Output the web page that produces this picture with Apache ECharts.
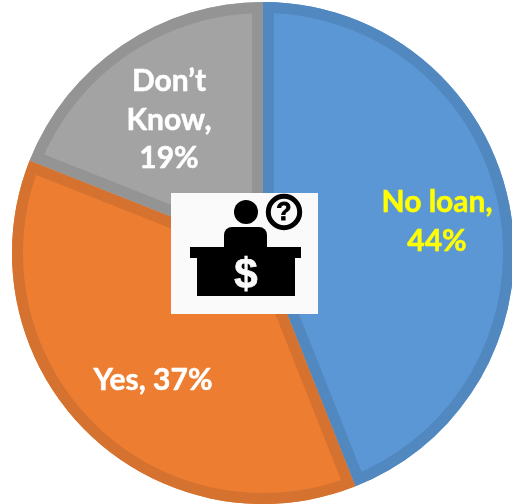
<!DOCTYPE html>
<html>
<head>
<meta charset="utf-8">
<style>html,body{margin:0;padding:0;background:#fff}#chart{width:512px;height:504px}</style>
<script src="https://cdn.jsdelivr.net/npm/echarts@6/dist/echarts.min.js"></script>
</head>
<body>
<div id="chart"></div>
<script>
// Survey answers: share of respondents, in percent
const categories = ['No loan', 'Yes', 'Don\u2019t Know'];
const shares = [44, 37, 19];
const labelLines = ['No loan,\n44%', 'Yes, 37%', 'Don\u2019t\nKnow,\n19%'];
const fillColors = ['#5B97D5', '#ED7D31', '#A3A3A3'];
const edgeColors = ['#5088BF', '#D5722F', '#949494'];
const labelColors = ['#FFFF00', '#FFFFFF', '#FFFFFF'];
const labelCentres = [[437, 222], [153, 380], [169, 120]];

const CX = 263, CY = 253, R = 251, EDGE = 11;
const total = shares.reduce((a, b) => a + b, 0);

// Slice start and end angles, clockwise from twelve o'clock
function sliceAngles(i) {
  const before = shares.slice(0, i).reduce((a, b) => a + b, 0);
  const toRad = v => -Math.PI / 2 + v / total * Math.PI * 2;
  return [toRad(before), toRad(before + shares[i])];
}

const chart = echarts.init(document.getElementById('chart'), null, { renderer: 'canvas' });
chart.setOption({
  animation: false,
  backgroundColor: '#fff',
  series: [
    {
      type: 'pie',
      z: 2,
      center: [CX, CY],
      radius: [0, R],
      startAngle: 90,
      clockwise: true,
      silent: true,
      data: categories.map((name, i) => ({
        name,
        value: shares[i],
        itemStyle: { color: fillColors[i] },
        label: { color: labelColors[i], formatter: labelLines[i], textBorderColor: labelColors[i], textBorderWidth: 0.5 }
      })),
      label: {
        show: true,
        position: 'inside',
        fontFamily: 'Lato',
        fontWeight: 'bold',
        fontSize: 30,
        lineHeight: 38.5
      },
      labelLine: { show: false },
      labelLayout: p => ({
        x: labelCentres[p.dataIndex][0],
        y: labelCentres[p.dataIndex][1],
        align: 'center',
        verticalAlign: 'middle'
      })
    },
    {
      // Darker rim that stays inside each slice: a wide stroke clipped to its own sector
      type: 'custom',
      z: 3,
      coordinateSystem: 'none',
      silent: true,
      data: shares,
      renderItem: (params) => {
        const i = params.dataIndex;
        const [startAngle, endAngle] = sliceAngles(i);
        const shape = { cx: CX, cy: CY, r0: 0, r: R, startAngle, endAngle, clockwise: true };
        return {
          type: 'sector',
          shape,
          style: { fill: 'none', stroke: edgeColors[i], lineWidth: EDGE * 2, lineJoin: 'miter' },
          clipPath: { type: 'sector', shape }
        };
      }
    }
  ],
  graphic: {
    elements: [
      { type: 'rect', z: 10, silent: true, shape: { x: 171, y: 193, width: 147, height: 121 }, style: { fill: '#FAFAFA' } },
      { type: 'circle', z: 11, silent: true, shape: { cx: 246, cy: 212, r: 12 }, style: { fill: '#000' } },
      { type: 'rect', z: 11, silent: true, shape: { x: 224, y: 227, width: 43, height: 24, r: [8, 8, 0, 0] }, style: { fill: '#000' } },
      { type: 'rect', z: 11, silent: true, shape: { x: 190, y: 247, width: 111, height: 11 }, style: { fill: '#000' } },
      { type: 'rect', z: 11, silent: true, shape: { x: 197, y: 258, width: 98, height: 38 }, style: { fill: '#000' } },
      { type: 'text', z: 12, silent: true, style: { x: 246, y: 276, text: '$', fill: '#FAFAFA', stroke: '#FAFAFA', lineWidth: 0.8, font: 'bold 42px "Liberation Sans"', align: 'center', verticalAlign: 'middle' } },
      { type: 'circle', z: 11, silent: true, shape: { cx: 284, cy: 212, r: 15.7 }, style: { fill: '#FAFAFA', stroke: '#000', lineWidth: 5 } },
      { type: 'text', z: 12, silent: true, style: { x: 284, y: 213, text: '?', fill: '#000', stroke: '#000', lineWidth: 0.8, font: 'bold 25px "Liberation Sans"', align: 'center', verticalAlign: 'middle' } }
    ]
  }
});
</script>
</body>
</html>
